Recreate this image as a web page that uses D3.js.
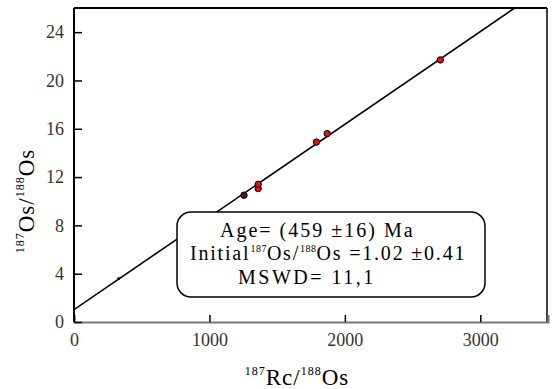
<!DOCTYPE html>
<html><head><meta charset="utf-8">
<script src="https://cdn.jsdelivr.net/npm/d3@7"></script>
<style>body{margin:0;background:#fff}svg{display:block}</style>
</head><body><svg id="c" width="557" height="389"></svg>
<script>
const xTicks = [0, 1000, 2000, 3000];
const yTicks = [0, 4, 8, 12, 16, 20, 24];
const ptX = [330, 1255, 1360, 1360, 1790, 1870, 2705];
const ptY = [3.6, 10.5, 11.05, 11.4, 14.9, 15.6, 21.7];
const ptType = ["tiny", "dark", "red", "red", "red", "red", "red"];
const intercept = 1.02;
const ageMa = 459;
const lambda = 1.666e-11;
const slope = Math.exp(lambda * ageMa * 1e6) - 1;

const SERIF = '"Liberation Serif", "DejaVu Serif", serif';
const svg = d3.select("#c").style("font-family", SERIF);
const L = 74, R = 547, T = 8, B = 322;
const x = d3.scaleLinear().domain([0, 3500]).range([L, R + 1]);
const y = d3.scaleLinear().domain([0, 26]).range([B, T]);

svg.append("clipPath").attr("id","clip").append("rect").attr("x",L).attr("y",T).attr("width",R-L).attr("height",B-T);

// frame
svg.append("line").attr("x1",L).attr("x2",R).attr("y1",T).attr("y2",T).attr("stroke","#000").attr("stroke-width",2);
svg.append("line").attr("x1",R).attr("x2",R).attr("y1",T).attr("y2",B).attr("stroke","#000").attr("stroke-width",1.5);

// x axis
const xa = svg.append("g").attr("transform",`translate(0,${B})`)
  .call(d3.axisBottom(x).tickValues(xTicks).tickSize(-7).tickPadding(11).tickFormat(d3.format("d")));
xa.attr("font-family", null);
xa.select(".domain").attr("stroke","#777").attr("stroke-width",2);
xa.selectAll(".tick line").attr("stroke","#000").attr("stroke-width",1.5);
xa.selectAll("text").attr("fill","#333").style("font-family",SERIF).style("font-size","18px");

// y axis
const ya = svg.append("g").attr("transform",`translate(${L},0)`)
  .call(d3.axisLeft(y).tickValues(yTicks).tickSize(-8).tickPadding(10));
ya.attr("font-family", null);
ya.select(".domain").attr("stroke","#000").attr("stroke-width",2).attr("d",`M0,${B}V${T}`);
ya.selectAll(".tick line").attr("stroke","#000").attr("stroke-width",1.5);
ya.selectAll("text").attr("fill","#333").style("font-family",SERIF).style("font-size","18px");

// isochron
const xEnd = (26 - intercept) / slope;
svg.append("line").attr("clip-path","url(#clip)")
  .attr("x1",x(0)).attr("y1",y(intercept)).attr("x2",x(xEnd)).attr("y2",y(26))
  .attr("stroke","#000").attr("stroke-width",1.6);

// points
const pts = ptX.map((v,i)=>({x:v,y:ptY[i],t:ptType[i]}));
svg.selectAll(".pt").data(pts).enter().append("circle")
  .attr("cx",d=>x(d.x)).attr("cy",d=>y(d.y))
  .attr("r",d=>d.t==="tiny"?1.5:3.2)
  .attr("fill",d=>d.t==="red"?"#e01010":(d.t==="dark"?"#6a1010":"#000"))
  .attr("stroke","#000").attr("stroke-width",d=>d.t==="tiny"?0:1);

// box
svg.append("rect").attr("x",177).attr("y",212).attr("width",308).attr("height",85).attr("rx",14)
  .attr("fill","#fff").attr("stroke","#000").attr("stroke-width",1.5);
const fs = 20;
svg.append("text").attr("x",220).attr("y",237).attr("font-size",fs).attr("letter-spacing",2).text("Age= (459 ±16) Ma");
const t2 = svg.append("text").attr("x",190).attr("y",260).attr("font-size",fs).attr("letter-spacing",1.8);
t2.append("tspan").text("Initial");
t2.append("tspan").attr("font-size",10).attr("letter-spacing",0.5).attr("dy",-8).text("187");
t2.append("tspan").attr("dy",8).text("Os/");
t2.append("tspan").attr("font-size",10).attr("letter-spacing",0.5).attr("dy",-8).text("188");
t2.append("tspan").attr("dy",8).text("Os =1.02 ±0.41");
svg.append("text").attr("x",238).attr("y",284).attr("font-size",fs).attr("letter-spacing",2.5).text("MSWD= 11,1");

// x label
const xl = svg.append("text").attr("x",297).attr("y",385).attr("text-anchor","middle").attr("font-size",23).attr("letter-spacing",1);
xl.append("tspan").attr("font-size",12).attr("dy",-10).text("187");
xl.append("tspan").attr("dy",10).text("Rc/");
xl.append("tspan").attr("font-size",12).attr("dy",-10).text("188");
xl.append("tspan").attr("dy",10).text("Os");

// y label
const yl = svg.append("text").attr("transform","translate(34,201) rotate(-90)").attr("text-anchor","middle").attr("font-size",23).attr("letter-spacing",1);
yl.append("tspan").attr("font-size",12).attr("dy",-10).text("187");
yl.append("tspan").attr("dy",10).text("Os/");
yl.append("tspan").attr("font-size",12).attr("dy",-10).text("188");
yl.append("tspan").attr("dy",10).text("Os");
</script></body></html>
